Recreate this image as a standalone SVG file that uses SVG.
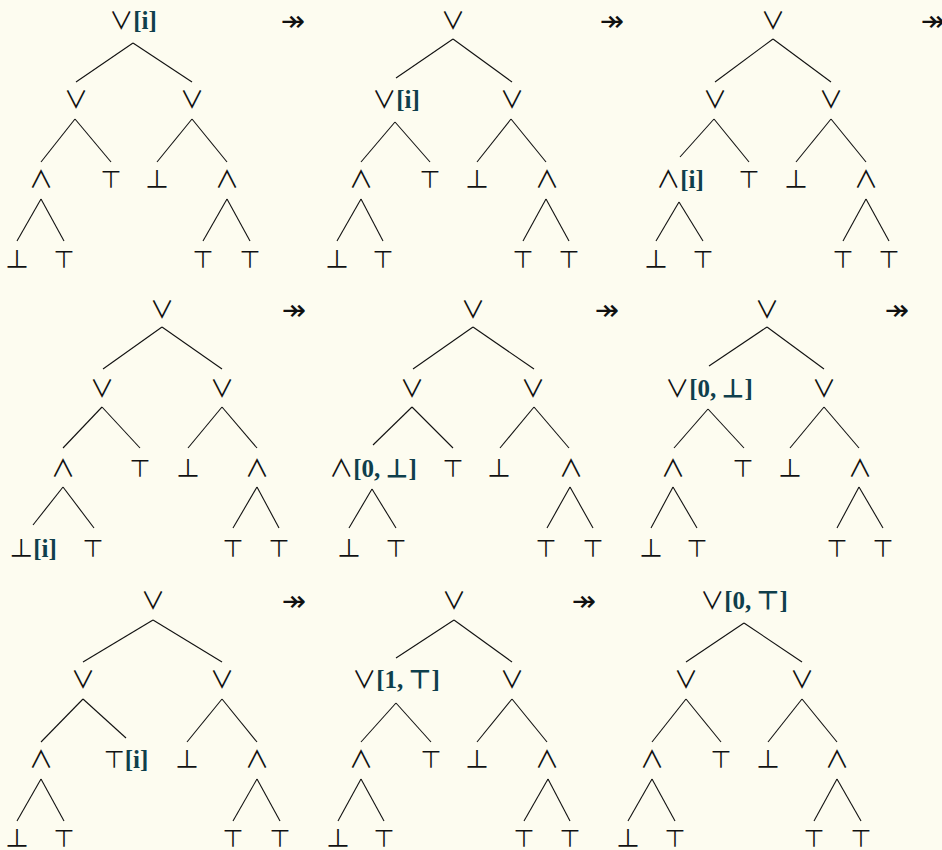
<svg xmlns="http://www.w3.org/2000/svg" width="942" height="850" viewBox="0 0 942 850">
<style>
.s{font-family:"Noto Sans CJK SC","DejaVu Sans",sans-serif;font-size:24px;fill:#111;text-anchor:middle}
.a{font-family:"Liberation Serif",serif;font-weight:bold;font-size:25px;fill:#0f3f4c}
.arr{font-family:"DejaVu Sans",sans-serif;font-size:29px;fill:#111;text-anchor:middle}
#edges line{stroke:#111;stroke-width:1.1}
</style>
<rect width="942" height="850" fill="#fdfcf0"/>
<g id="edges">
<line x1="133" y1="43" x2="76" y2="82"/><line x1="133" y1="43" x2="192" y2="82"/>
<line x1="75" y1="119" x2="41" y2="162"/><line x1="75" y1="119" x2="111" y2="162"/>
<line x1="192" y1="119" x2="157" y2="162"/><line x1="192" y1="119" x2="227" y2="162"/>
<line x1="41" y1="199" x2="17" y2="241"/><line x1="41" y1="199" x2="64" y2="241"/>
<line x1="227" y1="199" x2="203" y2="241"/><line x1="227" y1="199" x2="250" y2="241"/>

<line x1="453" y1="39" x2="396" y2="78"/><line x1="453" y1="39" x2="512" y2="82"/>
<line x1="395" y1="122" x2="361" y2="162"/><line x1="395" y1="122" x2="430" y2="162"/>
<line x1="511" y1="119" x2="477" y2="162"/><line x1="511" y1="119" x2="546" y2="162"/>
<line x1="361" y1="199" x2="337" y2="241"/><line x1="361" y1="199" x2="383" y2="241"/>
<line x1="546" y1="199" x2="523" y2="241"/><line x1="546" y1="199" x2="569" y2="241"/>

<line x1="773" y1="39" x2="715" y2="82"/><line x1="773" y1="39" x2="831" y2="82"/>
<line x1="714" y1="119" x2="680" y2="157"/><line x1="714" y1="119" x2="749" y2="162"/>
<line x1="831" y1="119" x2="796" y2="162"/><line x1="831" y1="119" x2="866" y2="162"/>
<line x1="679" y1="202" x2="656" y2="241"/><line x1="679" y1="202" x2="703" y2="241"/>
<line x1="866" y1="199" x2="843" y2="241"/><line x1="866" y1="199" x2="889" y2="241"/>

<line x1="162" y1="327" x2="103" y2="369"/><line x1="162" y1="327" x2="222" y2="369"/>
<line x1="102" y1="407" x2="63" y2="448"/><line x1="102" y1="407" x2="140" y2="448"/>
<line x1="222" y1="407" x2="188" y2="448"/><line x1="222" y1="407" x2="257" y2="448"/>
<line x1="63" y1="487" x2="33" y2="525"/><line x1="63" y1="487" x2="94" y2="528"/>
<line x1="257" y1="487" x2="233" y2="528"/><line x1="257" y1="487" x2="279" y2="528"/>

<line x1="473" y1="327" x2="413" y2="369"/><line x1="473" y1="327" x2="534" y2="369"/>
<line x1="412" y1="407" x2="373" y2="445"/><line x1="412" y1="407" x2="453" y2="448"/>
<line x1="534" y1="407" x2="500" y2="448"/><line x1="534" y1="407" x2="569" y2="448"/>
<line x1="372" y1="489" x2="349" y2="528"/><line x1="372" y1="489" x2="396" y2="528"/>
<line x1="570" y1="487" x2="547" y2="528"/><line x1="570" y1="487" x2="593" y2="528"/>

<line x1="767" y1="327" x2="709" y2="366"/><line x1="767" y1="327" x2="824" y2="369"/>
<line x1="708" y1="409" x2="674" y2="448"/><line x1="708" y1="409" x2="744" y2="448"/>
<line x1="824" y1="407" x2="790" y2="448"/><line x1="824" y1="407" x2="859" y2="448"/>
<line x1="673" y1="487" x2="651" y2="528"/><line x1="673" y1="487" x2="697" y2="528"/>
<line x1="859" y1="487" x2="837" y2="528"/><line x1="859" y1="487" x2="883" y2="528"/>

<line x1="153" y1="620" x2="83" y2="662"/><line x1="153" y1="620" x2="222" y2="662"/>
<line x1="83" y1="699" x2="41" y2="742"/><line x1="83" y1="699" x2="126" y2="738"/>
<line x1="222" y1="699" x2="187" y2="742"/><line x1="222" y1="699" x2="257" y2="742"/>
<line x1="41" y1="779" x2="17" y2="821"/><line x1="41" y1="779" x2="64" y2="821"/>
<line x1="257" y1="779" x2="233" y2="821"/><line x1="257" y1="779" x2="280" y2="821"/>

<line x1="454" y1="620" x2="396" y2="658"/><line x1="454" y1="620" x2="512" y2="662"/>
<line x1="396" y1="703" x2="361" y2="742"/><line x1="396" y1="703" x2="431" y2="742"/>
<line x1="512" y1="699" x2="477" y2="742"/><line x1="512" y1="699" x2="547" y2="742"/>
<line x1="361" y1="779" x2="338" y2="821"/><line x1="361" y1="779" x2="384" y2="821"/>
<line x1="548" y1="779" x2="524" y2="821"/><line x1="548" y1="779" x2="570" y2="821"/>

<line x1="744" y1="623" x2="686" y2="662"/><line x1="744" y1="623" x2="802" y2="662"/>
<line x1="686" y1="699" x2="652" y2="742"/><line x1="686" y1="699" x2="721" y2="742"/>
<line x1="802" y1="699" x2="768" y2="742"/><line x1="802" y1="699" x2="837" y2="742"/>
<line x1="652" y1="779" x2="628" y2="821"/><line x1="652" y1="779" x2="675" y2="821"/>
<line x1="837" y1="779" x2="814" y2="821"/><line x1="837" y1="779" x2="861" y2="821"/>
</g>

<g id="tree1">
<g id="t1-root"><text class="s" x="133" y="29">∨<tspan class="a">[i]</tspan></text></g>
<g id="t1-l"><text class="s" x="76" y="108">∨</text></g>
<g id="t1-r"><text class="s" x="192" y="108">∨</text></g>
<g id="t1-ll"><text class="s" x="41" y="188">∧</text></g>
<g id="t1-lr"><text class="s" x="111" y="188">⊤</text></g>
<g id="t1-rl"><text class="s" x="157" y="188">⊥</text></g>
<g id="t1-rr"><text class="s" x="227" y="188">∧</text></g>
<g id="t1-lll"><text class="s" x="17" y="268">⊥</text></g>
<g id="t1-llr"><text class="s" x="64" y="268">⊤</text></g>
<g id="t1-rrl"><text class="s" x="203" y="268">⊤</text></g>
<g id="t1-rrr"><text class="s" x="250" y="268">⊤</text></g>
</g>
<g id="tree2">
<g id="t2-root"><text class="s" x="453" y="29">∨</text></g>
<g id="t2-l"><text class="s" x="396" y="108">∨<tspan class="a">[i]</tspan></text></g>
<g id="t2-r"><text class="s" x="512" y="108">∨</text></g>
<g id="t2-ll"><text class="s" x="361" y="188">∧</text></g>
<g id="t2-lr"><text class="s" x="430" y="188">⊤</text></g>
<g id="t2-rl"><text class="s" x="477" y="188">⊥</text></g>
<g id="t2-rr"><text class="s" x="547" y="188">∧</text></g>
<g id="t2-lll"><text class="s" x="337" y="268">⊥</text></g>
<g id="t2-llr"><text class="s" x="383" y="268">⊤</text></g>
<g id="t2-rrl"><text class="s" x="523" y="268">⊤</text></g>
<g id="t2-rrr"><text class="s" x="569" y="268">⊤</text></g>
</g>
<g id="tree3">
<g id="t3-root"><text class="s" x="773" y="29">∨</text></g>
<g id="t3-l"><text class="s" x="715" y="108">∨</text></g>
<g id="t3-r"><text class="s" x="831" y="108">∨</text></g>
<g id="t3-ll"><text class="s" x="680" y="188">∧<tspan class="a">[i]</tspan></text></g>
<g id="t3-lr"><text class="s" x="749" y="188">⊤</text></g>
<g id="t3-rl"><text class="s" x="796" y="188">⊥</text></g>
<g id="t3-rr"><text class="s" x="866" y="188">∧</text></g>
<g id="t3-lll"><text class="s" x="656" y="268">⊥</text></g>
<g id="t3-llr"><text class="s" x="703" y="268">⊤</text></g>
<g id="t3-rrl"><text class="s" x="843" y="268">⊤</text></g>
<g id="t3-rrr"><text class="s" x="889" y="268">⊤</text></g>
</g>
<g id="tree4">
<g id="t4-root"><text class="s" x="162" y="318">∨</text></g>
<g id="t4-l"><text class="s" x="102" y="397">∨</text></g>
<g id="t4-r"><text class="s" x="222" y="397">∨</text></g>
<g id="t4-ll"><text class="s" x="63" y="477">∧</text></g>
<g id="t4-lr"><text class="s" x="140" y="477">⊤</text></g>
<g id="t4-rl"><text class="s" x="188" y="477">⊥</text></g>
<g id="t4-rr"><text class="s" x="257" y="477">∧</text></g>
<g id="t4-lll"><text class="s" x="33" y="557">⊥<tspan class="a">[i]</tspan></text></g>
<g id="t4-llr"><text class="s" x="93" y="557">⊤</text></g>
<g id="t4-rrl"><text class="s" x="233" y="557">⊤</text></g>
<g id="t4-rrr"><text class="s" x="279" y="557">⊤</text></g>
</g>
<g id="tree5">
<g id="t5-root"><text class="s" x="473" y="318">∨</text></g>
<g id="t5-l"><text class="s" x="412" y="397">∨</text></g>
<g id="t5-r"><text class="s" x="533" y="397">∨</text></g>
<g id="t5-ll"><text class="s" x="373" y="477">∧<tspan class="a">[0, ⊥]</tspan></text></g>
<g id="t5-lr"><text class="s" x="453" y="477">⊤</text></g>
<g id="t5-rl"><text class="s" x="499" y="477">⊥</text></g>
<g id="t5-rr"><text class="s" x="571" y="477">∧</text></g>
<g id="t5-lll"><text class="s" x="349" y="557">⊥</text></g>
<g id="t5-llr"><text class="s" x="396" y="557">⊤</text></g>
<g id="t5-rrl"><text class="s" x="546" y="557">⊤</text></g>
<g id="t5-rrr"><text class="s" x="593" y="557">⊤</text></g>
</g>
<g id="tree6">
<g id="t6-root"><text class="s" x="767" y="318">∨</text></g>
<g id="t6-l"><text class="s" x="709" y="397">∨<tspan class="a">[0, ⊥]</tspan></text></g>
<g id="t6-r"><text class="s" x="824" y="397">∨</text></g>
<g id="t6-ll"><text class="s" x="673" y="477">∧</text></g>
<g id="t6-lr"><text class="s" x="743" y="477">⊤</text></g>
<g id="t6-rl"><text class="s" x="790" y="477">⊥</text></g>
<g id="t6-rr"><text class="s" x="860" y="477">∧</text></g>
<g id="t6-lll"><text class="s" x="651" y="557">⊥</text></g>
<g id="t6-llr"><text class="s" x="697" y="557">⊤</text></g>
<g id="t6-rrl"><text class="s" x="837" y="557">⊤</text></g>
<g id="t6-rrr"><text class="s" x="883" y="557">⊤</text></g>
</g>
<g id="tree7">
<g id="t7-root"><text class="s" x="153" y="609">∨</text></g>
<g id="t7-l"><text class="s" x="83" y="688">∨</text></g>
<g id="t7-r"><text class="s" x="222" y="688">∨</text></g>
<g id="t7-ll"><text class="s" x="41" y="768">∧</text></g>
<g id="t7-lr"><text class="s" x="126" y="768">⊤<tspan class="a">[i]</tspan></text></g>
<g id="t7-rl"><text class="s" x="187" y="768">⊥</text></g>
<g id="t7-rr"><text class="s" x="257" y="768">∧</text></g>
<g id="t7-lll"><text class="s" x="17" y="847">⊥</text></g>
<g id="t7-llr"><text class="s" x="64" y="847">⊤</text></g>
<g id="t7-rrl"><text class="s" x="233" y="847">⊤</text></g>
<g id="t7-rrr"><text class="s" x="280" y="847">⊤</text></g>
</g>
<g id="tree8">
<g id="t8-root"><text class="s" x="454" y="609">∨</text></g>
<g id="t8-l"><text class="s" x="396" y="688">∨<tspan class="a">[1, ⊤]</tspan></text></g>
<g id="t8-r"><text class="s" x="512" y="688">∨</text></g>
<g id="t8-ll"><text class="s" x="361" y="768">∧</text></g>
<g id="t8-lr"><text class="s" x="431" y="768">⊤</text></g>
<g id="t8-rl"><text class="s" x="477" y="768">⊥</text></g>
<g id="t8-rr"><text class="s" x="547" y="768">∧</text></g>
<g id="t8-lll"><text class="s" x="338" y="847">⊥</text></g>
<g id="t8-llr"><text class="s" x="384" y="847">⊤</text></g>
<g id="t8-rrl"><text class="s" x="524" y="847">⊤</text></g>
<g id="t8-rrr"><text class="s" x="570" y="847">⊤</text></g>
</g>
<g id="tree9">
<g id="t9-root"><text class="s" x="744" y="609">∨<tspan class="a">[0, ⊤]</tspan></text></g>
<g id="t9-l"><text class="s" x="686" y="688">∨</text></g>
<g id="t9-r"><text class="s" x="802" y="688">∨</text></g>
<g id="t9-ll"><text class="s" x="652" y="768">∧</text></g>
<g id="t9-lr"><text class="s" x="721" y="768">⊤</text></g>
<g id="t9-rl"><text class="s" x="768" y="768">⊥</text></g>
<g id="t9-rr"><text class="s" x="837" y="768">∧</text></g>
<g id="t9-lll"><text class="s" x="628" y="847">⊥</text></g>
<g id="t9-llr"><text class="s" x="675" y="847">⊤</text></g>
<g id="t9-rrl"><text class="s" x="814" y="847">⊤</text></g>
<g id="t9-rrr"><text class="s" x="861" y="847">⊤</text></g>
</g>
<g id="arrows">
<text class="arr" x="293" y="31">↠</text>
<text class="arr" x="612" y="31">↠</text>
<text class="arr" x="933" y="31">↠</text>
<text class="arr" x="294" y="320">↠</text>
<text class="arr" x="607" y="320">↠</text>
<text class="arr" x="897" y="320">↠</text>
<text class="arr" x="294" y="611">↠</text>
<text class="arr" x="584" y="611">↠</text>
</g>
</svg>
